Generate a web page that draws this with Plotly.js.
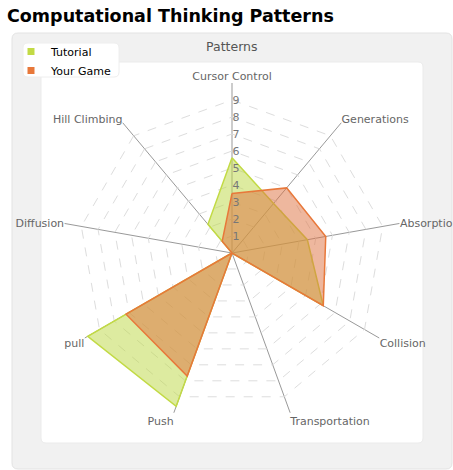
<!DOCTYPE html>
<html>
<head>
<meta charset="utf-8">
<script src="https://cdn.plot.ly/plotly-3.0.1.min.js"></script>
<style>html,body{margin:0;padding:0;background:#fff;}#chart{width:453px;height:470px;}</style>
</head>
<body>
<div id="chart"></div>
<script>
const categories = ["Cursor Control","Generations","Absorption","Collision","Transportation","Push","pull","Diffusion","Hill Climbing"];
const tutorial = [5.6, 3.8, 4.5, 6.2, 0, 9.6, 9.8, 0, 2.2];
const yourGame = [3.5, 5.0, 5.6, 6.2, 0, 7.7, 7.2, 0, 0.9];
const radialTicks = [1,2,3,4,5,6,7,8,9,10];
const radialTickText = ["1","2","3","4","5","6","7","8","9",""];
const seriesNames = ["Tutorial","Your Game"];

const W = 453, H = 470;
const px = x => x / W, py = y => 1 - y / H;
function roundRect(x0, y0, x1, y1, r) {
  const p = [];
  p.push(`M ${px(x0 + r)} ${py(y0)}`);
  p.push(`L ${px(x1 - r)} ${py(y0)}`);
  p.push(`Q ${px(x1)} ${py(y0)} ${px(x1)} ${py(y0 + r)}`);
  p.push(`L ${px(x1)} ${py(y1 - r)}`);
  p.push(`Q ${px(x1)} ${py(y1)} ${px(x1 - r)} ${py(y1)}`);
  p.push(`L ${px(x0 + r)} ${py(y1)}`);
  p.push(`Q ${px(x0)} ${py(y1)} ${px(x0)} ${py(y1 - r)}`);
  p.push(`L ${px(x0)} ${py(y0 + r)}`);
  p.push(`Q ${px(x0)} ${py(y0)} ${px(x0 + r)} ${py(y0)}`);
  p.push('Z');
  return p.join(' ');
}

const close = a => a.concat([a[0]]);
const theta = close(categories);
const colors = {tut: '#c2da45', game: '#e8783a'};

const traces = [
  {
    type: 'scatterpolar', name: seriesNames[0], legendgroup: 't', showlegend: false,
    r: close(tutorial), theta: theta, mode: 'lines',
    fill: 'toself', fillcolor: 'rgba(187,215,65,0.5)',
    line: {color: colors.tut, width: 1.5}
  },
  {
    type: 'scatterpolar', name: seriesNames[1], legendgroup: 'g', showlegend: false,
    r: close(yourGame), theta: theta, mode: 'lines',
    fill: 'toself', fillcolor: 'rgba(222,111,62,0.5)',
    line: {color: colors.game, width: 1.5}
  },
  {
    type: 'scatterpolar', name: seriesNames[0], legendgroup: 't', showlegend: true,
    r: [null], theta: [categories[0]], mode: 'markers',
    marker: {symbol: 'square', size: 7, color: colors.tut}
  },
  {
    type: 'scatterpolar', name: seriesNames[1], legendgroup: 'g', showlegend: true,
    r: [null], theta: [categories[0]], mode: 'markers',
    marker: {symbol: 'square', size: 7, color: colors.game}
  }
];

const cx = 232, cy = 253, R = 170;
const radAngle = 90;
const layout = {
  width: W, height: H,
  margin: {l: 0, r: 0, t: 0, b: 0},
  paper_bgcolor: '#ffffff',
  font: {family: 'DejaVu Sans, sans-serif', size: 11, color: '#666'},
  title: {
    text: '<b>Computational Thinking Patterns</b>',
    x: 7 / W, xanchor: 'left', xref: 'paper',
    y: 1 - 10 / H, yanchor: 'top', yref: 'container',
    font: {family: 'DejaVu Sans, sans-serif', size: 17.5, color: '#000'}
  },
  showlegend: true,
  legend: {
    x: 11 / W, y: py(37), xanchor: 'left', yanchor: 'top',
    bgcolor: 'rgba(0,0,0,0)', borderwidth: 0,
    font: {family: 'DejaVu Sans, sans-serif', size: 11, color: '#000'},
    itemwidth: 30, tracegroupgap: 0
  },
  shapes: [
    {type: 'path', xref: 'paper', yref: 'paper', layer: 'below',
     path: roundRect(12, 33, 452, 469, 6), fillcolor: '#f1f1f1', line: {color: '#e3e3e3', width: 1}},
    {type: 'path', xref: 'paper', yref: 'paper', layer: 'below',
     path: roundRect(41, 62, 423, 443, 5), fillcolor: '#ffffff', line: {color: '#ebebeb', width: 1}},
    {type: 'path', xref: 'paper', yref: 'paper', layer: 'below',
     path: roundRect(23, 43, 119, 77, 5), fillcolor: '#ffffff', line: {color: '#eeeeee', width: 1}}
  ],
  annotations: [
    {text: 'Patterns', xref: 'paper', yref: 'paper', x: px(232), y: py(46),
     xanchor: 'center', yanchor: 'middle', showarrow: false,
     font: {family: 'DejaVu Sans, sans-serif', size: 12.5, color: '#555'}}
  ],
  polar: {
    domain: {x: [px(cx - R), px(cx + R)], y: [py(cy + R), py(cy - R)]},
    bgcolor: 'rgba(0,0,0,0)',
    gridshape: 'linear',
    angularaxis: {
      rotation: 90, direction: 'clockwise', type: 'category',
      showline: false, gridcolor: '#999999', gridwidth: 1,
      ticks: '', tickfont: {family: 'DejaVu Sans, sans-serif', size: 11, color: '#666'}
    },
    radialaxis: {
      range: [0, 10], angle: radAngle, showline: false, ticks: '',
      tickvals: radialTicks, ticktext: radialTickText,
      gridcolor: '#dddddd', griddash: 'dash', gridwidth: 1,
      tickfont: {family: 'DejaVu Sans, sans-serif', size: 11, color: '#777'},
      tickangle: radAngle
    }
  }
};

Plotly.newPlot('chart', traces, layout, {displayModeBar: false, staticPlot: true});
</script>
</body>
</html>
